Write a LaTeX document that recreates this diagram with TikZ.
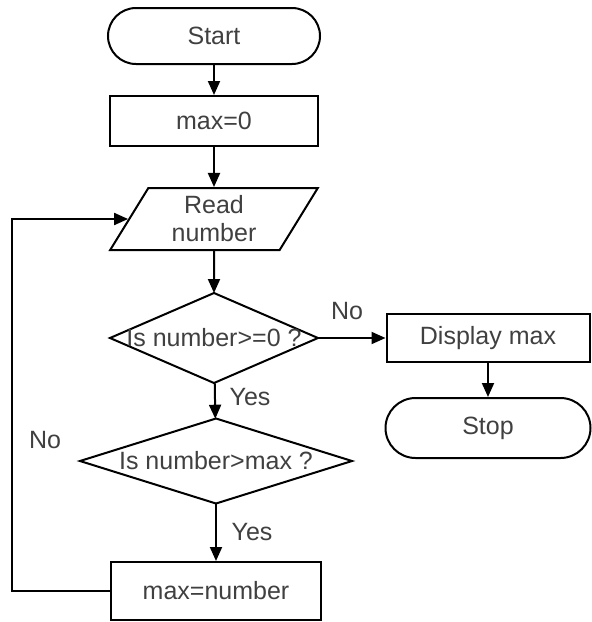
\documentclass[tikz,border=0pt]{standalone}
\usepackage{fontspec}
\setmainfont{Liberation Sans}
\usetikzlibrary{shapes.geometric,arrows.meta}

\tikzset{
  term/.style={draw,rectangle,rounded corners=14pt,minimum width=106pt,minimum height=28pt},
  procbox/.style={draw,rectangle,minimum width=104pt,minimum height=25pt},
  iobox/.style={draw,trapezium,trapezium left angle=62,trapezium right angle=118,
    trapezium stretches=true,minimum width=104pt,minimum height=31pt,align=center,
    inner sep=0pt},
  decision/.style={draw,diamond,inner sep=0pt,outer sep=0pt}
}

\begin{document}
\begin{tikzpicture}[x=0.5pt,y=-0.5pt,>={Triangle[length=7pt,width=6pt]},line width=1pt,
  every node/.append style={font=\fontsize{12.5}{14}\selectfont,text=black!75}]
  \useasboundingbox (0,0) rectangle (592,622);
  % boxes
  \node[term] (start) at (214,36) {Start};
  \node[procbox] (init) at (214,121) {max=0};
  \node[iobox] (read) at (214,219) {Read\\number};
  \node[decision,minimum width=104pt,minimum height=45pt,
    label=center:{Is number>=0 ?}] (pos) at (214,338) {};
  \node[decision,minimum width=136pt,minimum height=42.5pt,
    label=center:{Is number>max ?}] (bigger) at (216,461) {};
  \node[procbox,minimum width=105pt,minimum height=29pt] (setmax) at (216,591) {max=number};
  \node[procbox,minimum width=101.5pt,minimum height=24pt] (show) at (488,338) {Display max};
  \node[term,rounded corners=15pt,minimum width=102.5pt,minimum height=30pt] (stop) at (488,428) {Stop};
  % answers
  \node (no1) at (347,311) {No};
  \node (yes1) at (250,397) {Yes};
  \node (yes2) at (252,532) {Yes};
  \node (no2) at (45,440) {No};
  % arrows
  \draw[->] (start) -- (init);
  \draw[->] (init) -- (read);
  \draw[->] (read) -- (pos);
  \draw[->] (pos) -- (bigger);
  \draw[->] (bigger) -- (setmax.north -| bigger.south);
  \draw[->] (pos.east) -- (show.west);
  \draw[->] (show) -- (stop);
  \coordinate (corner) at (12,591);
  \draw[->] (setmax.west) -- (corner) |- (read.west);
\end{tikzpicture}
\end{document}
